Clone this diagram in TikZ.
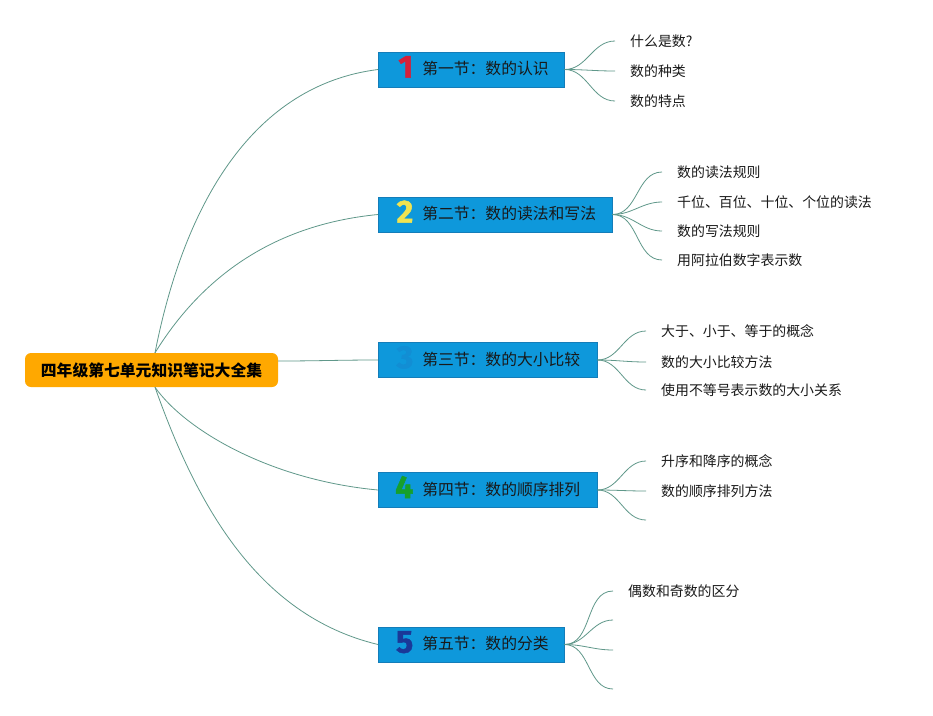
\documentclass[tikz,border=0pt]{standalone}
\usepackage{fontspec}
\setmainfont{Noto Sans CJK SC}
\newfontfamily\numf{Fira Sans}[BoldFeatures={FakeBold=1.5}]
\definecolor{boxblue}{RGB}{14,152,219}
\definecolor{boxline}{RGB}{20,125,185}
\definecolor{rootorange}{RGB}{255,168,0}
\definecolor{linkgreen}{RGB}{96,152,138}
\definecolor{textdark}{RGB}{25,25,25}
\definecolor{numred}{RGB}{214,32,58}
\definecolor{numyellow}{RGB}{242,228,80}
\definecolor{numblue}{RGB}{18,142,212}
\definecolor{numgreen}{RGB}{22,160,44}
\definecolor{numnavy}{RGB}{26,56,152}
\newcommand\secnum[2]{\makebox[15pt][r]{\raisebox{-3pt}{\smash{\numf\bfseries\fontsize{32}{32}\selectfont\color{#1}#2}}}}
\begin{document}
\begin{tikzpicture}[x=1pt,y=-1pt,
  rootbox/.style={rectangle, rounded corners=6pt, fill=rootorange, minimum width=253pt, minimum height=34pt, inner sep=0pt, font=\fontsize{15.8}{18}\selectfont\bfseries, text=black},
  secbox/.style={rectangle, fill=boxblue, draw=boxline, line width=0.5pt, minimum height=35pt, inner sep=0pt, anchor=west, align=left, font=\fontsize{15.8}{18}\selectfont, text=textdark},
  leaf/.style={anchor=west, inner xsep=15pt, inner ysep=0pt, font=\fontsize{13.9}{16}\selectfont, text=textdark},
  link/.style={draw=linkgreen, line width=0.8pt}]
\fill[white] (0,0) rectangle (933,715);
\useasboundingbox (0,0) rectangle (933,715);

% root
\node[rootbox] (root) at (151.5,370) {四年级第七单元知识笔记大全集};

% sections
\node[secbox, text width=186pt] (s1) at (378,69.5) {\hspace*{20pt}\secnum{numred}{1}\hspace{9pt}第一节：数的认识};
\node[secbox, text width=234pt] (s2) at (378,214.5) {\hspace*{20pt}\secnum{numyellow}{2}\hspace{9pt}第二节：数的读法和写法};
\node[secbox, text width=219pt] (s3) at (378,360) {\hspace*{20pt}\secnum{numblue}{3}\hspace{9pt}第三节：数的大小比较};
\node[secbox, text width=219pt] (s4) at (378,490) {\hspace*{20pt}\secnum{numgreen}{4}\hspace{9pt}第四节：数的顺序排列};
\node[secbox, text width=186pt] (s5) at (378,644.5) {\hspace*{20pt}\secnum{numnavy}{5}\hspace{9pt}第五节：数的分类};

% leaves
\node[leaf] (l11) at (615,41) {什么是数?};
\node[leaf] (l12) at (615,71) {数的种类};
\node[leaf] (l13) at (615,101) {数的特点};

\node[leaf] (l21) at (662,172) {数的读法规则};
\node[leaf] (l22) at (662,202) {千位、百位、十位、个位的读法};
\node[leaf] (l23) at (662,231) {数的写法规则};
\node[leaf] (l24) at (662,260) {用阿拉伯数字表示数};

\node[leaf] (l31) at (646,331) {大于、小于、等于的概念};
\node[leaf] (l32) at (646,362) {数的大小比较方法};
\node[leaf] (l33) at (646,390) {使用不等号表示数的大小关系};

\node[leaf] (l41) at (646,461) {升序和降序的概念};
\node[leaf] (l42) at (646,491) {数的顺序排列方法};
\node[leaf] (l43) at (646,520) {};

\node[leaf] (l51) at (613,591) {偶数和奇数的区分};
\node[leaf] (l52) at (613,620) {};
\node[leaf] (l53) at (613,650) {};
\node[leaf] (l54) at (613,689) {};

% root links
\draw[link] ([xshift=3.5pt]root.north) .. controls (185,200) and (255,85) .. (s1.west);
\draw[link] ([xshift=3.5pt]root.north) .. controls (200,280) and (270,225) .. (s2.west);
\draw[link] ([yshift=9pt]root.east) to[out=0,in=180] (s3.west);
\draw[link] ([xshift=3.5pt]root.south) .. controls (185,430) and (270,480) .. (s4.west);
\draw[link] ([xshift=3.5pt]root.south) .. controls (195,500) and (255,615) .. (s5.west);

% leaf links
\foreach \s/\l in {s1/l11,s1/l12,s1/l13,s2/l21,s2/l22,s2/l23,s2/l24,s3/l31,s3/l32,s3/l33,s4/l41,s4/l42,s4/l43,s5/l51,s5/l52,s5/l53,s5/l54}
  \draw[link] (\s.east) to[out=0,in=180] (\l.west);
\end{tikzpicture}
\end{document}
